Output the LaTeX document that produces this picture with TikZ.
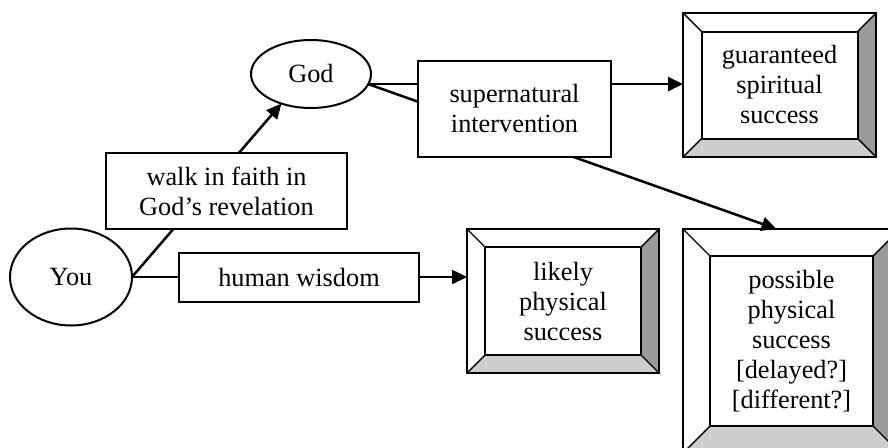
\documentclass[tikz,border=0pt]{standalone}
\usepackage{fontspec}
\setmainfont{Liberation Serif}
\usetikzlibrary{arrows.meta,calc,shapes.geometric}
\definecolor{bevdark}{HTML}{9A9A9A}
\definecolor{bevlight}{HTML}{CDCDCD}
\tikzset{
  txt/.style={font=\fontsize{26.3}{30}\selectfont, align=center},
  oval/.style={ellipse, draw, line width=2pt, fill=white, inner sep=0pt, outer sep=0pt, txt},
  labelbox/.style={rectangle, draw, line width=2pt, fill=white, inner sep=0pt, outer sep=0pt, txt},
  bevelbox/.style={rectangle, draw, line width=2pt, fill=white, inner sep=0pt, outer sep=0pt, txt},
  conn/.style={line width=2.5pt},
  arr/.style={conn, -{Triangle[length=15pt,width=14pt]}},
}
\newcommand{\bevelit}[2]{%
  \coordinate (#1-inw) at ($(#1.north west)+(#2,#2)$);
  \coordinate (#1-ine) at ($(#1.north east)+(-#2,#2)$);
  \coordinate (#1-ise) at ($(#1.south east)+(-#2,-#2)$);
  \coordinate (#1-isw) at ($(#1.south west)+(#2,-#2)$);
  \fill[bevdark] (#1.north east) -- (#1.south east) -- (#1-ise) -- (#1-ine) -- cycle;
  \fill[bevlight] (#1.south west) -- (#1.south east) -- (#1-ise) -- (#1-isw) -- cycle;
  \draw[line width=1.4pt] (#1.north west) -- (#1-inw) (#1.north east) -- (#1-ine)
        (#1.south east) -- (#1-ise) (#1.south west) -- (#1-isw);
  \draw[line width=2pt] (#1-inw) rectangle (#1-ise);
  \draw[line width=2pt] (#1.north west) rectangle (#1.south east);
}
\begin{document}
\begin{tikzpicture}[x=1pt,y=-1pt]
\clip (0,0) rectangle (888,447);
\fill[white] (0,0) rectangle (888,447);

\node[oval, minimum width=120pt, minimum height=68pt] (God) at (311,74) {God};
\node[oval, minimum width=122pt, minimum height=97pt] (You) at (71,277) {You};

\node[bevelbox, minimum width=193pt, minimum height=144pt] (guar) at (779.5,85)
  {guaranteed\\spiritual\\success};
\bevelit{guar}{18.5}
\node[bevelbox, minimum width=192pt, minimum height=144pt] (likely) at (563,301)
  {likely\\physical\\success};
\bevelit{likely}{17.7}
\node[bevelbox, minimum width=217pt, minimum height=224pt] (possible) at (791.5,341)
  {possible\\physical\\success\\{}[delayed?]\\{}[different?]};
\bevelit{possible}{27}

\draw[arr] (You.east) -- (God.225);
\draw[arr] (You.east) -- (You.east -| likely.west);
\draw[arr] (God.350) -- (God.350 -| guar.west);
\draw[arr] (God.350) -- ($(possible.north)+(-15,0)$);

\node[labelbox, minimum width=241pt, minimum height=76pt] (walk) at (226.5,191)
  {walk in faith in\\God’s revelation};
\node[labelbox, minimum width=240pt, minimum height=49pt] (wisdom) at (299,277.5)
  {human wisdom};
\node[labelbox, minimum width=193pt, minimum height=96pt] (super) at (514.5,109)
  {supernatural\\intervention};
\end{tikzpicture}
\end{document}
